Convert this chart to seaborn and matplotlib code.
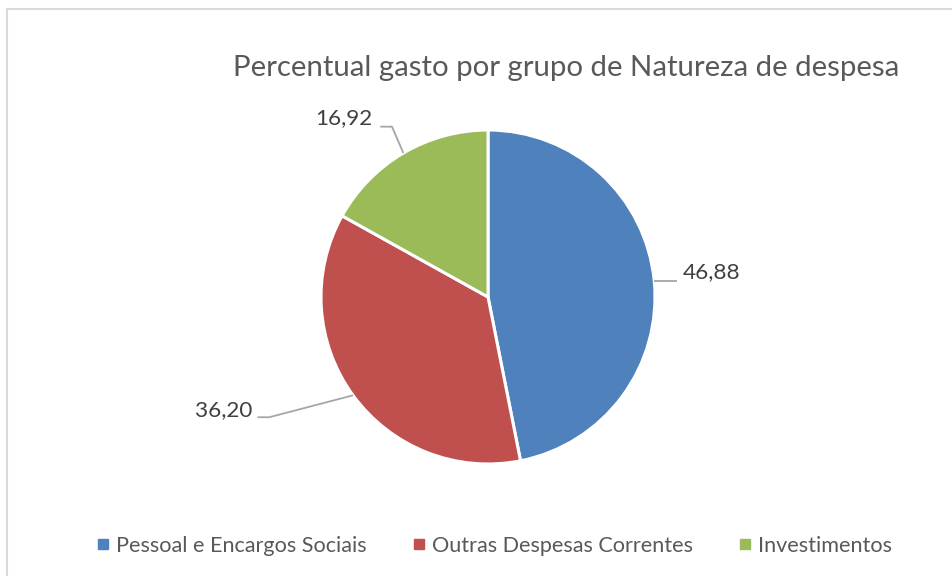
import numpy as np
import matplotlib
matplotlib.use("Agg")
import matplotlib.pyplot as plt
import seaborn as sns
from matplotlib.lines import Line2D

categories = ["Pessoal e Encargos Sociais", "Outras Despesas Correntes", "Investimentos"]
values = [46.88, 36.20, 16.92]
value_labels = ["46,88", "36,20", "16,92"]
title = "Percentual gasto por grupo de Natureza de despesa"

sns.set_theme(style="white")
plt.rcParams['font.family'] = ['Lato', 'DejaVu Sans']
colors = sns.color_palette(["#4F81BD", "#C0504D", "#9BBB59"])

W, H = 953, 576
fig = plt.figure(figsize=(W / 100, H / 100), dpi=100)
fig.patch.set_facecolor("white")

cx, cy, r = 488, 297, 167
ax = fig.add_axes([(cx - r) / W, (H - cy - r) / H, 2 * r / W, 2 * r / H])
wedges, _ = ax.pie(values, colors=colors, startangle=90, counterclock=False,
                   wedgeprops=dict(edgecolor="white", linewidth=2.2))
ax.set_xlim(-1, 1)
ax.set_ylim(-1, 1)
ax.set_aspect("auto")
ax.axis("off")

# label placement: (elbow point, text point, alignment)
label_layout = [
    ((1.13, None), (1.165, 0.15), "left"),
    ((-1.31, -0.72), (-1.41, -0.68), "right"),
    ((-0.575, 1.02), (-0.69, 1.07), "right"),
]
lc = "#A6A6A6"
for w, lab, (elbow, tpos, ha) in zip(wedges, value_labels, label_layout):
    ang = np.deg2rad((w.theta1 + w.theta2) / 2)
    ax_, ay_ = np.cos(ang), np.sin(ang)
    ex, ey = elbow
    if ey is None:
        ey = ay_
    if ha == "left":
        xs = [ax_, ex]
        ys = [ay_, ey]
    else:
        xs = [ax_, ex, ex - 0.07]
        ys = [ay_, ey, ey]
    ax.plot(xs, ys, color=lc, lw=1.3, clip_on=False, solid_capstyle="butt")
    ax.text(tpos[0], tpos[1], lab, ha=ha, va="center", fontsize=16.2,
            color="#404040", clip_on=False)

fig.text(566 / W, 1 - 68 / H, title, ha="center", va="center",
         fontsize=21.2, color="#595959")

handles = [Line2D([0], [0], marker="s", linestyle="none", markersize=7.5,
                  markerfacecolor=c, markeredgecolor=c) for c in colors]
fig.legend(handles, categories, loc="center", bbox_to_anchor=(493 / W, 1 - 546 / H),
           ncol=3, frameon=False, fontsize=15.6, labelcolor="#595959",
           handletextpad=0.2, columnspacing=2.0, handlelength=0.8)

# chart border (top and left)
fig.add_artist(Line2D([7 / W, 7 / W, 1], [0, 1 - 9 / H, 1 - 9 / H],
                      transform=fig.transFigure, color="#D9D9D9", lw=1.5))

fig.savefig("out.png", dpi=100, facecolor="white")
